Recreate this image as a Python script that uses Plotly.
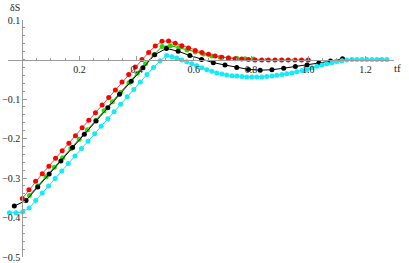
import plotly.graph_objects as go

# ---- data ----
red_x = [0.0, 0.0233, 0.0465, 0.0698, 0.0930, 0.1163, 0.1395, 0.1628, 0.1860, 0.2093,
         0.2326, 0.2558, 0.2791, 0.3023, 0.3256, 0.3488, 0.3721, 0.3953, 0.4186, 0.4419,
         0.4651, 0.4884, 0.5116, 0.5349, 0.5581, 0.5814, 0.6047, 0.6279, 0.6512, 0.6744,
         0.6977, 0.7209, 0.7442, 0.7674, 0.7907, 0.8140, 0.8372, 0.8605, 0.8837, 0.9070,
         0.9302, 0.9535, 0.9767, 1.0]
red_y = [-0.352, -0.330, -0.308, -0.289, -0.270, -0.250, -0.231, -0.212, -0.193, -0.173,
         -0.154, -0.135, -0.115, -0.096, -0.077, -0.057, -0.038, -0.019, 0.000, 0.018,
         0.034, 0.046, 0.047, 0.041, 0.035, 0.029, 0.023, 0.018, 0.013, 0.009,
         0.006, 0.004, 0.002, 0.001, 0.000, -0.001, -0.001, -0.001, -0.001, -0.001,
         -0.001, -0.001, -0.001, -0.001]

green_x = [0.025, 0.054, 0.083, 0.112, 0.141, 0.170, 0.199, 0.228, 0.257, 0.286,
           0.315, 0.344, 0.373, 0.402, 0.431, 0.460, 0.489, 0.518, 0.547, 0.576,
           0.605, 0.634, 0.663, 0.692, 0.721, 0.750, 0.779, 0.808]
green_y = [-0.344, -0.320, -0.297, -0.273, -0.249, -0.225, -0.202, -0.178, -0.154, -0.130,
           -0.107, -0.083, -0.059, -0.035, -0.011, 0.012, 0.033, 0.035, 0.030, 0.024,
           0.019, 0.014, 0.009, 0.006, 0.004, 0.003, 0.002, 0.001]

black_x = [-0.028, 0.013, 0.054, 0.094, 0.135, 0.176, 0.217, 0.258, 0.299, 0.340,
           0.381, 0.422, 0.463, 0.504, 0.545, 0.586, 0.627, 0.668, 0.709, 0.750,
           0.791, 0.832, 0.873, 0.914, 0.955, 0.996, 1.037, 1.078, 1.120]
black_y = [-0.371, -0.357, -0.323, -0.290, -0.257, -0.223, -0.189, -0.156, -0.122, -0.088,
           -0.055, -0.021, 0.012, 0.028, 0.021, 0.010, 0.000, -0.008, -0.014, -0.020,
           -0.025, -0.027, -0.026, -0.022, -0.018, -0.014, -0.009, -0.004, 0.002]

cyan_x = [-0.045, -0.022, 0.001, 0.024, 0.047, 0.070, 0.092, 0.115, 0.138, 0.161,
          0.184, 0.207, 0.230, 0.253, 0.276, 0.299, 0.321, 0.344, 0.367, 0.390,
          0.413, 0.436, 0.459, 0.482, 0.505, 0.523, 0.540, 0.558, 0.575, 0.593,
          0.610, 0.628, 0.645, 0.663, 0.680, 0.698, 0.715, 0.733, 0.750, 0.768,
          0.785, 0.803, 0.820, 0.838, 0.855, 0.873, 0.890, 0.908, 0.925, 0.943,
          0.960, 0.978, 0.995, 1.013, 1.030, 1.048, 1.065, 1.083, 1.100, 1.118,
          1.135, 1.153, 1.170, 1.188, 1.205, 1.223, 1.240, 1.258, 1.275]
cyan_y = [-0.388, -0.388, -0.386, -0.376, -0.357, -0.338, -0.320, -0.301, -0.282, -0.263,
          -0.244, -0.225, -0.207, -0.188, -0.169, -0.150, -0.132, -0.113, -0.094, -0.076,
          -0.057, -0.038, -0.020, -0.003, 0.010, 0.007, 0.004, -0.001, -0.006, -0.011,
          -0.016, -0.021, -0.026, -0.030, -0.034, -0.037, -0.039, -0.041, -0.042, -0.043,
          -0.044, -0.044, -0.044, -0.044, -0.043, -0.042, -0.040, -0.038, -0.036, -0.034,
          -0.031, -0.028, -0.025, -0.021, -0.017, -0.014, -0.011, -0.008, -0.005, -0.003,
          -0.001, 0.000, 0.000, 0.000, 0.000, 0.000, 0.000, 0.000, 0.000]

x_tick_vals = [0.2, 0.4, 0.6, 0.8, 1.0, 1.2]
x_tick_text = ["0.2", "0.4", "0.6", "0.8", "1.0", "1.2"]
y_tick_vals = [0.1, -0.1, -0.2, -0.3, -0.4, -0.5]
y_tick_text = ["0.1", "\u22120.1", "\u22120.2", "\u22120.3", "\u22120.4", "\u22120.5"]

XMIN, XMAX = -0.05, 1.3
YMIN, YMAX = -0.5, 0.1
ML, MR, MT, MB = 8, 15, 20, 6
W, H = 409, 263

fig = go.Figure()

def add(xs, ys, color, lcolor):
    fig.add_trace(go.Scatter(x=xs, y=ys, mode="lines+markers",
                             line=dict(color=lcolor, width=1),
                             marker=dict(color=color, size=5, line=dict(width=0)),
                             cliponaxis=False, showlegend=False))

add(green_x, green_y, "rgb(40,220,0)", "rgb(30,160,0)")
add(black_x, black_y, "black", "black")
add(cyan_x, cyan_y, "rgb(20,235,245)", "rgb(20,225,240)")
add(red_x, red_y, "rgb(255,0,0)", "rgb(255,70,70)")

axis_col = "#9a9a9a"
font = dict(family="Liberation Serif, Times New Roman, serif", size=10, color="#222")

def px_to_paper(px, py):
    return (px - ML) / (W - ML - MR), (H - MB - py) / (H - MT - MB)

dsx, dsy = px_to_paper(15, 7)
tfx, tfy = px_to_paper(403, 59.5)

fig.update_layout(
    width=W, height=H,
    margin=dict(l=ML, r=MR, t=MT, b=MB, autoexpand=False),
    paper_bgcolor="white", plot_bgcolor="white",
    font=font,
    xaxis=dict(range=[XMIN, XMAX], showgrid=False, zeroline=False, automargin=False,
               showline=True, linecolor=axis_col, linewidth=1,
               anchor="free", position=(0 - YMIN) / (YMAX - YMIN),
               tickmode="array", tickvals=x_tick_vals, ticktext=x_tick_text,
               ticks="inside", ticklen=4, tickcolor=axis_col, tickwidth=1,
               minor=dict(dtick=0.05, tick0=0, ticks="inside", ticklen=2,
                          tickcolor=axis_col, showgrid=False),
               tickfont=font),
    yaxis=dict(range=[YMIN, YMAX], showgrid=False, zeroline=False, automargin=False,
               showline=True, linecolor=axis_col, linewidth=1,
               anchor="free", position=(0 - XMIN) / (XMAX - XMIN),
               tickmode="array", tickvals=y_tick_vals, ticktext=y_tick_text,
               ticks="inside", ticklen=4, tickcolor=axis_col, tickwidth=1,
               minor=dict(dtick=0.02, tick0=0, ticks="inside", ticklen=2,
                          tickcolor=axis_col, showgrid=False),
               tickfont=font),
    annotations=[
        dict(text="\u03b4S", x=dsx, y=dsy, xref="paper", yref="paper",
             xanchor="center", yanchor="middle",
             showarrow=False, font=dict(family=font["family"], size=10, color="#222")),
        dict(text="tf", x=tfx, y=tfy, xref="paper", yref="paper",
             showarrow=False, font=dict(family=font["family"], size=11, color="#222")),
    ],
)

fig.write_html("out.html", config={"displayModeBar": False},
               post_script="document.body.style.margin='0px';document.body.style.padding='0px';")
